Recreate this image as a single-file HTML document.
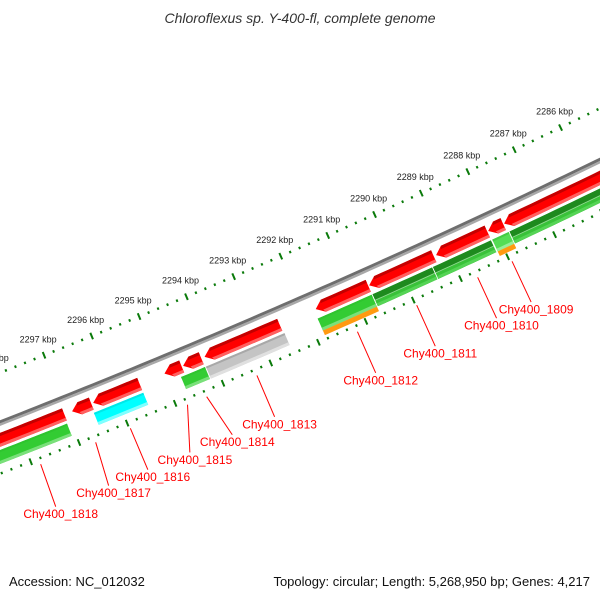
<!DOCTYPE html>
<html><head><meta charset="utf-8"><style>
html,body{margin:0;padding:0;background:#fff;}
svg{display:block;font-family:"Liberation Sans",sans-serif;}
</style></head><body>
<svg id="chart" width="600" height="600" viewBox="0 0 600 600" xmlns="http://www.w3.org/2000/svg">
<text x="300" y="23" text-anchor="middle" font-size="14" font-style="italic" fill="#333">Chloroflexus sp. Y-400-fl, complete genome</text>
<g id="rings"></g>
<g id="genes"></g>
<g id="labels"></g>
<text x="9" y="586" font-size="13" fill="#111">Accession: NC_012032</text>
<text x="590" y="586" text-anchor="end" font-size="13" fill="#111">Topology: circular; Length: 5,268,950 bp; Genes: 4,217</text>
</svg>
<script>
// data (kbp)
const tickKbp = [2286,2287,2288,2289,2290,2291,2292,2293,2294,2295,2296,2297,2298,2299];
const tickLabels = ['2286 kbp','2287 kbp','2288 kbp','2289 kbp','2290 kbp','2291 kbp','2292 kbp','2293 kbp','2294 kbp','2295 kbp','2296 kbp','2297 kbp','2298 kbp','2299 kbp'];
const redHi = [2298.6, 2296.90, 2296.46, 2294.97, 2294.58, 2294.13, 2291.79, 2290.66, 2289.24, 2288.13, 2287.79];
const redLo = [2297.06, 2296.50, 2295.49, 2294.61, 2294.20, 2292.55, 2290.68, 2289.29, 2288.15, 2287.81, 2284.3];
const featType = ['green','cyan','green','gray','green','dark','dark','light','dark'];
const featHi = [2298.6, 2296.52, 2294.70, 2294.18, 2291.83, 2290.67, 2289.39, 2288.13, 2287.76];
const featLo = [2297.08, 2295.49, 2294.20, 2292.53, 2290.69, 2289.41, 2288.16, 2287.78, 2284.3];
const orangeHi = [2291.83, 2288.13];
const orangeLo = [2290.69, 2287.78];
const labelNames = ['Chy400_1818','Chy400_1817','Chy400_1816','Chy400_1815','Chy400_1814','Chy400_1813','Chy400_1812','Chy400_1811','Chy400_1810','Chy400_1809'];
const labelGeneBp = [2297.84, 2296.70, 2295.98, 2294.79, 2294.39, 2293.34, 2291.23, 2289.98, 2288.69, 2287.96];
const labelTextBp = [2297.87, 2296.78, 2295.97, 2295.10, 2294.22, 2293.34, 2291.23, 2289.98, 2288.69, 2287.96];

const NS='http://www.w3.org/2000/svg';
const CX=-3005, CY=-7260, TH0=65.67, K=0.3585;
const R_IN=8203, R_BB=8250, R_RED1=8259, R_RED2=8272, R_F1=8275, R_F2=8288, R_OR2=8293, R_OUT=8297;
function ang(bp){return (TH0+(bp-2290)*K)*Math.PI/180;}
function pt(r,bp){const t=ang(bp);return [CX+r*Math.cos(t), CY+r*Math.sin(t)];}
function mk(tag,attrs,parent){const e=document.createElementNS(NS,tag);for(const k in attrs)e.setAttribute(k,attrs[k]);parent.appendChild(e);return e;}
function arcPts(r,b1,b2){const n=Math.max(4,Math.ceil(Math.abs(b2-b1)*6));const a=[];for(let i=0;i<=n;i++){a.push(pt(r,b1+(b2-b1)*i/n));}return a;}
function band(r1,r2,hi,lo){return arcPts(r1,lo,hi).concat(arcPts(r2,hi,lo));}
function toStr(a){return a.map(p=>p[0].toFixed(2)+','+p[1].toFixed(2)).join(' ');}
const rings=document.getElementById('rings'), genes=document.getElementById('genes'), labels=document.getElementById('labels');

// backbone
let bb=mk('polyline',{points:toStr(arcPts(R_BB-1.3,2284,2300)),fill:'none',stroke:'#6e6e6e','stroke-width':3},genes);


let bb2=mk('polyline',{points:toStr(arcPts(R_BB+1.3,2284,2300)),fill:'none',stroke:'#a8a8a8','stroke-width':2.4},genes);



// tick rings
function tickMark(r,bp,len,w,name){const a=pt(r-len/2,bp),b=pt(r+len/2,bp);const l=mk('line',{x1:a[0],y1:a[1],x2:b[0],y2:b[1],stroke:'#0a7a0a','stroke-width':w},rings);

}
for(let i=0;i<=80;i++){const bp=2284+i*0.2;const major=(i%5===0);
  tickMark(R_IN,bp,major?7:2.5,2,major?'inner-major-tick':'inner-minor-tick');
  tickMark(R_OUT,bp,major?7:2.5,2,major?'outer-major-tick':'outer-minor-tick');}
tickKbp.forEach((k,i)=>{const p=pt(R_IN,k);const t=mk('text',{x:(p[0]-6).toFixed(1),y:(p[1]-13).toFixed(1),'text-anchor':'middle','font-size':9,fill:'#222'},rings);t.textContent=tickLabels[i];

});

// red gene arrows
const HEAD=0.16;
redHi.forEach((hi,i)=>{const lo=redLo[i];const h=Math.min(HEAD,(hi-lo)*0.5);const bodyHi=hi-h;const rm=(R_RED1+R_RED2)/2;
  const g=mk('g',{},genes);
  
  
  const poly=arcPts(R_RED1,lo,bodyHi).concat([pt(rm,hi)]).concat(arcPts(R_RED2,bodyHi,lo));
  mk('polygon',{points:toStr(poly),fill:'#ff0000'},g);
  const top=arcPts(R_RED1,lo,bodyHi).concat([pt(R_RED1+3,bodyHi+h*0.2)]).concat(arcPts(R_RED1+3,bodyHi,lo));
  mk('polygon',{points:toStr(top),fill:'#c40000'},g);
  const bot=arcPts(R_RED2-3,lo,bodyHi).concat([pt(R_RED2-3,bodyHi+h*0.2)]).concat(arcPts(R_RED2,bodyHi,lo));
  mk('polygon',{points:toStr(bot),fill:'#ff6060'},g);
});

// lower features
const cols={green:['#2fc42f','#33cc33','#7ae07a'],cyan:['#00e8e8','#00ffff','#80ffff'],gray:['#a8a8a8','#c4c4c4','#e0e0e0'],dark:['#1e8a1e','#2aa82a','#55d455'],light:['#44cc44','#55dd55','#99ee99']};
featHi.forEach((hi,i)=>{const lo=featLo[i];const c=cols[featType[i]];
  const g=mk('g',{},genes);
  
  
  mk('polygon',{points:toStr(band(R_F1,R_F2,hi,lo)),fill:c[1]},g);
  if(featType[i]==='dark'){mk('polygon',{points:toStr(band(R_F1,R_F1+6,hi,lo)),fill:c[0]},g);
    mk('polygon',{points:toStr(band(R_F1+6,R_F1+7,hi,lo)),fill:'#8fd88f'},g);
    mk('polygon',{points:toStr(band(R_F1+7,R_F2,hi,lo)),fill:'#39c239'},g);}
  else{mk('polygon',{points:toStr(band(R_F1,R_F1+2,hi,lo)),fill:c[0]},g);}
  mk('polygon',{points:toStr(band(R_F2-3,R_F2,hi,lo)),fill:c[2]},g);
});
orangeHi.forEach((hi,i)=>{const p=mk('polygon',{points:toStr(band(R_F2,R_OR2,hi,orangeLo[i])),fill:'#ff9a10'},genes);

});

// labels
labelNames.forEach((n,i)=>{const a=pt(8303,labelGeneBp[i]),b=pt(8348,labelTextBp[i]);
  const l=mk('line',{x1:a[0],y1:a[1],x2:b[0],y2:b[1],stroke:'#ff0000','stroke-width':1},labels);
  
  
  const t=mk('text',{x:(b[0]+5).toFixed(1),y:(b[1]+11.5).toFixed(1),'text-anchor':'middle','font-size':12,fill:'#ff0000'},labels);
  t.textContent=n;
  
  
});
</script>
</body></html>
